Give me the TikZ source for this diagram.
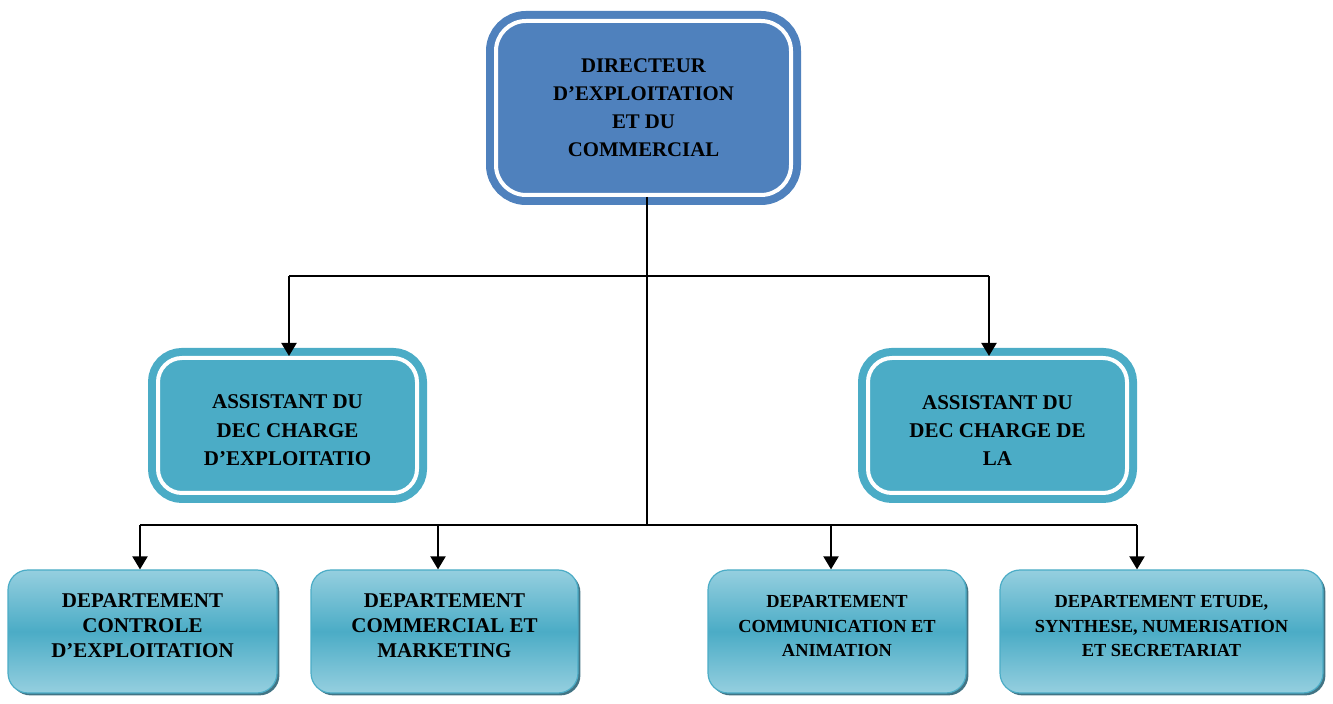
\documentclass[tikz,border=0pt]{standalone}
\usepackage{fontspec}
\setmainfont{Liberation Serif}
\usetikzlibrary{arrows.meta,shadows}

\definecolor{dirblue}{HTML}{4F81BD}
\definecolor{assblue}{HTML}{4BACC6}
\definecolor{deplight}{HTML}{95CFDF}
\definecolor{depshadow}{HTML}{2E6577}

\tikzset{
  dirbox/.style={rounded corners=15pt, fill=dirblue, draw=white, line width=2pt,
    preaction={draw=dirblue, line width=10pt},
    minimum width=147.5pt, minimum height=87pt, align=center,
    font=\fontsize{10.4}{14}\selectfont\bfseries},
  assbox/.style={rounded corners=12pt, fill=assblue, draw=white, line width=2pt,
    preaction={draw=assblue, line width=10pt},
    minimum width=129.5pt, minimum height=67.5pt, align=center,
    font=\fontsize{10.5}{14.2}\selectfont\bfseries},
  depbox/.style={rounded corners=10pt, draw=assblue, line width=0.6pt,
    top color=deplight, bottom color=deplight, middle color=assblue,
    drop shadow={shadow xshift=1.2pt, shadow yshift=-1.2pt, fill=depshadow, opacity=0.9},
    minimum height=61.5pt, align=center},
  conn/.style={line width=1pt},
  arr/.style={line width=1pt, -{Triangle[width=7.5pt,length=6.5pt]}}
}

\begin{document}
\begin{tikzpicture}[x=0.5pt, y=-0.5pt]
  \useasboundingbox (0,0) rectangle (1333,704);

  % Direction
  \node[dirbox] (dir) at (643.5,108) {DIRECTEUR\\ D’EXPLOITATION\\ ET DU\\ COMMERCIAL};

  % Assistants
  \node[assbox] (asL) at (287.5,425.5) {\rule{0pt}{12pt}ASSISTANT DU\\ DEC CHARGE\\ D’EXPLOITATIO};
  \node[assbox] (asR) at (997.5,425.5) {\rule{0pt}{12pt}ASSISTANT DU\\ DEC CHARGE DE\\ LA};

  % Departements
  \begin{scope}[font=\fontsize{10.5}{12.5}\selectfont\bfseries]
    \node[depbox, minimum width=134.5pt] (d1) at (142.5,631.5) {DEPARTEMENT\\ CONTROLE\\ D’EXPLOITATION\\[-7pt] ~};
    \node[depbox, minimum width=133.5pt] (d2) at (444.5,631.5) {DEPARTEMENT\\ COMMERCIAL ET\\ MARKETING\\[-7pt] ~};
  \end{scope}
  \begin{scope}[font=\fontsize{9.2}{12.3}\selectfont\bfseries]
    \node[depbox, minimum width=129pt] (d3) at (837,631.5) {DEPARTEMENT\\ COMMUNICATION ET\\ ANIMATION\\[-7pt] ~};
    \node[depbox, minimum width=161.5pt] (d4) at (1161.5,631.5) {DEPARTEMENT ETUDE,\\ SYNTHESE, NUMERISATION\\ ET SECRETARIAT\\[-7pt] ~};
  \end{scope}

  % Liaisons
  \coordinate (c0) at (647,276);
  \coordinate (cL) at (289,276);
  \coordinate (cR) at (989,276);
  \coordinate (b0) at (647,525);
  \coordinate (t1) at (140,525);
  \coordinate (t2) at (438,525);
  \coordinate (t3) at (831,525);
  \coordinate (t4) at (1137,525);

  \draw[conn] (dir.south -| c0) -- (b0);
  \draw[conn] (cL) -- (cR);
  \draw[arr] (cL) -- (cL |- asL.north);
  \draw[arr] (cR) -- (cR |- asR.north);
  \draw[conn] (t1) -- (t4);
  \foreach \t/\d in {t1/d1, t2/d2, t3/d3, t4/d4}
    \draw[arr] (\t) -- (\t |- \d.north);
\end{tikzpicture}
\end{document}
